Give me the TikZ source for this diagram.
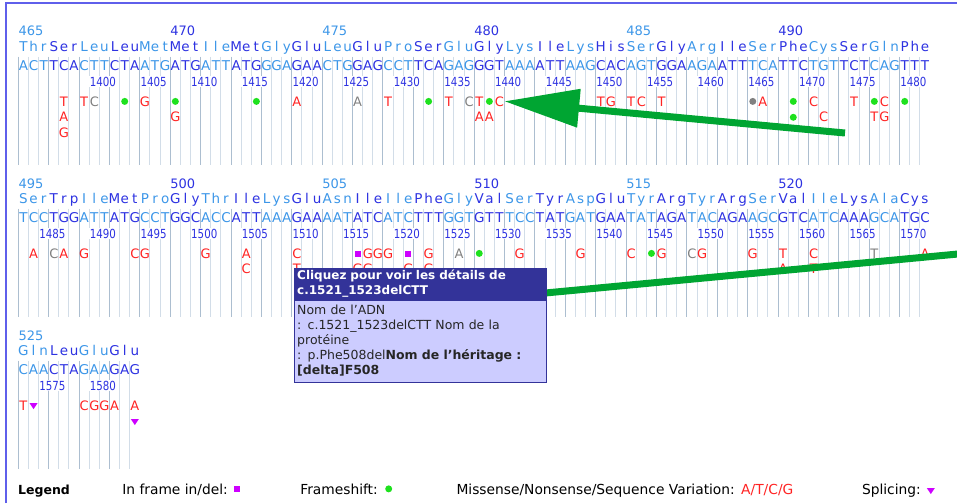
\documentclass[tikz,border=0pt]{standalone}
\usepackage{fontspec}
\setmainfont{DejaVu Sans}
\usetikzlibrary{arrows.meta, positioning, shapes.geometric}

\definecolor{seqlight}{RGB}{60,150,232}
\definecolor{seqdark}{RGB}{45,50,225}
\colorlet{seq0}{seqlight}
\colorlet{seq1}{seqdark}
\definecolor{gridlight}{RGB}{210,221,232}
\definecolor{griddark}{RGB}{172,190,208}
\definecolor{framecol}{RGB}{95,95,235}
\definecolor{mutred}{RGB}{255,35,35}
\definecolor{mutgray}{RGB}{128,128,128}
\definecolor{fsgreen}{RGB}{30,225,30}
\definecolor{ifdpurple}{RGB}{205,0,255}
\definecolor{arrowgreen}{RGB}{0,165,50}
\definecolor{tipnavy}{RGB}{51,51,153}
\definecolor{tipbody}{RGB}{204,204,255}

\tikzstyle{letter} = [inner sep=0pt, anchor=base, font=\fontsize{13.5}{15}\selectfont]
\tikzstyle{codonnum} = [inner sep=0pt, anchor=base west, font=\fontsize{13}{15}\selectfont]
\tikzstyle{ntnum} = [inner sep=0.5pt, anchor=base west, fill=white, text=seqdark, font=\fontsize{12.5}{14}\selectfont]
\tikzstyle{mut} = [inner sep=0pt, anchor=base, text=mutred, font=\fontsize{13}{15}\selectfont]
\tikzstyle{mutg} = [mut, text=mutgray]
\tikzstyle{fs} = [circle, fill=fsgreen, inner sep=0pt, minimum size=7pt, yshift=4.6pt]
\tikzstyle{fsg} = [fs, fill=mutgray]
\tikzstyle{ifd} = [rectangle, fill=ifdpurple, inner sep=0pt, minimum size=6pt, yshift=4.3pt]
\tikzstyle{splice} = [isosceles triangle, shape border rotate=-90, isosceles triangle stretches, fill=ifdpurple, inner sep=0pt, minimum width=8pt, minimum height=6pt, yshift=4.7pt]
\tikzstyle{grid0} = [griddark, line width=1pt]
\tikzstyle{grid1} = [gridlight, line width=1pt]
\tikzstyle{grid2} = [gridlight, line width=1pt]
\tikzstyle{bigarrow} = [arrowgreen, line width=7pt, -{Triangle[length=75pt, width=37pt]}]
\tikzstyle{bigline} = [arrowgreen, line width=7pt]
\tikzstyle{tiphead} = [rectangle, anchor=north west, fill=tipnavy, draw=tipnavy, text=white, text width=246pt, inner xsep=3pt, inner ysep=2pt, minimum height=31pt, align=left, font=\bfseries\fontsize{12}{15}\selectfont]
\tikzstyle{tipbox} = [rectangle, fill=tipbody, draw=tipnavy, text=black!85, text width=246pt, inner xsep=3pt, inner ysep=3pt, minimum height=82pt, align=left, font=\fontsize{12.5}{15}\selectfont]
\tikzstyle{legendtext} = [inner sep=0pt, font=\fontsize{13.8}{15}\selectfont]

% one codon: three letters, one per column
\def\putthree#1#2#3\relax#4#5#6#7{%
  \node[letter, text=#6] (#7-1) at (#4,#5) {#1};
  \node[letter, text=#6] (#7-2) at ({#4+10.13},#5) {#2};
  \node[letter, text=#6] (#7-3) at ({#4+20.26},#5) {#3};}

\newcommand{\seqrow}[3]{%
  \foreach \acid/\cod [count=\kk from 0] in {#3} {
    \pgfmathtruncatemacro{\cpar}{mod(\kk,2)}
    \pgfmathsetmacro{\xk}{23.4+30.39*\kk}
    \pgfmathsetmacro{\ya}{51.7+#2}
    \pgfmathsetmacro{\yn}{70.7+#2}
    \expandafter\putthree\acid\relax{\xk}{\ya}{seq\cpar}{aa#1-\kk}
    \expandafter\putthree\cod\relax{\xk}{\yn}{seq\cpar}{nt#1-\kk}
  }}

\newcommand{\gridrow}[2]{%
  \foreach \col in {1,...,#1} {
    \pgfmathtruncatemacro{\g}{mod(\col-1,3)}
    \draw[grid\g] ({18.3+10.13*(\col-1)},{56.7+#2}) -- ++(0,108);
  }}

\newcommand{\mutrow}[3]{%
  \foreach \col/\lin/\sty/\txt in {#3} {
    \node[\sty] (m#1-\col-\lin) at ({23.4+10.13*\col},{106+15.9*(\lin-1)+#2}) {\txt};
  }}

\begin{document}
\begin{tikzpicture}[x=1pt, y=-1pt]
\useasboundingbox (0,0) rectangle (957,503);

% frame
\draw[framecol, line width=2pt] (6,503) -- (6,3) -- (957,3);

% column lines
\gridrow{90}{0}
\gridrow{90}{152}
\gridrow{12}{304}

% codon numbers
\foreach \num [count=\m from 0] in {465,470,...,490} {
  \pgfmathtruncatemacro{\cpar}{mod(\m,2)}
  \node[codonnum, text=seq\cpar] (cn\num) at ({18.3+151.95*\m},36) {\num};
}
\foreach \num [count=\m from 0] in {495,500,...,520} {
  \pgfmathtruncatemacro{\cpar}{mod(\m,2)}
  \node[codonnum, text=seq\cpar] (cn\num) at ({18.3+151.95*\m},188) {\num};
}
\node[codonnum, text=seq0] (cn525) at (18.3,340) {525};

% amino acids and bases
\seqrow{1}{0}{Thr/ACT,Ser/TCA,Leu/CTT,Leu/CTA,Met/ATG,Met/ATG,Ile/ATT,Met/ATG,Gly/GGA,Glu/GAA,
  Leu/CTG,Glu/GAG,Pro/CCT,Ser/TCA,Glu/GAG,Gly/GGT,Lys/AAA,Ile/ATT,Lys/AAG,His/CAC,
  Ser/AGT,Gly/GGA,Arg/AGA,Ile/ATT,Ser/TCA,Phe/TTC,Cys/TGT,Ser/TCT,Gln/CAG,Phe/TTT}
\seqrow{2}{152}{Ser/TCC,Trp/TGG,Ile/ATT,Met/ATG,Pro/CCT,Gly/GGC,Thr/ACC,Ile/ATT,Lys/AAA,Glu/GAA,
  Asn/AAT,Ile/ATC,Ile/ATC,Phe/TTT,Gly/GGT,Val/GTT,Ser/TCC,Tyr/TAT,Asp/GAT,Glu/GAA,
  Tyr/TAT,Arg/AGA,Tyr/TAC,Arg/AGA,Ser/AGC,Val/GTC,Ile/ATC,Lys/AAA,Ala/GCA,Cys/TGC}
\seqrow{3}{304}{Gln/CAA,Leu/CTA,Glu/GAA,Glu/GAG}

% base numbers
\foreach \num [count=\m from 0] in {1400,1405,...,1480}
  \node[ntnum] (nn\num) at ({18.3+10.13*(7+5*\m)},86) {\scalebox{0.82}[1]{\num}};
\foreach \num [count=\m from 0] in {1485,1490,...,1570}
  \node[ntnum] (nn\num) at ({18.3+10.13*(2+5*\m)},238) {\scalebox{0.82}[1]{\num}};
\foreach \num [count=\m from 0] in {1575,1580}
  \node[ntnum] (nn\num) at ({18.3+10.13*(2+5*\m)},390) {\scalebox{0.82}[1]{\num}};

% mutations
\mutrow{1}{0}{4/1/mut/T,4/2/mut/A,4/3/mut/G,6/1/mut/T,7/1/mutg/C,10/1/fs/{},12/1/mut/G,15/1/fs/{},15/2/mut/G,
  23/1/fs/{},27/1/mut/A,33/1/mutg/A,36/1/mut/T,40/1/fs/{},42/1/mut/T,44/1/mutg/C,45/1/mut/T,45/2/mut/A,
  46/1/fs/{},46/2/mut/A,47/1/mut/C,57/1/mut/T,58/1/mut/G,60/1/mut/T,61/1/mut/C,63/1/mut/T,72/1/fsg/{},
  73/1/mut/A,76/1/fs/{},76/2/fs/{},78/1/mut/C,79/2/mut/C,82/1/mut/T,84/1/fs/{},84/2/mut/T,85/1/mut/C,
  85/2/mut/G,87/1/fs/{}}
\mutrow{2}{152}{1/1/mut/A,3/1/mutg/C,4/1/mut/A,6/1/mut/G,11/1/mut/C,12/1/mut/G,18/1/mut/G,22/1/mut/A,
  22/2/mut/C,27/1/mut/C,27/2/mut/T,33/1/ifd/{},33/2/mut/G,34/1/mut/G,34/2/mut/G,35/1/mut/G,36/1/mut/G,
  38/1/ifd/{},38/2/mut/G,40/1/mut/G,40/2/mut/G,43/1/mutg/A,45/1/fs/{},49/1/mut/G,55/1/mut/G,60/1/mut/C,
  62/1/fs/{},63/1/mut/G,66/1/mutg/C,67/1/mut/G,72/1/mut/G,75/1/mut/T,75/2/mut/A,78/1/mut/C,78/2/mut/T,
  84/1/mutg/T,89/1/mut/A}
\mutrow{3}{304}{0/1/mut/T,1/1/splice/{},6/1/mut/C,7/1/mut/G,8/1/mut/G,9/1/mut/A,11/1/mut/A,11/2/splice/{}}

% green pointers
\coordinate (tailA) at (845,133);
\draw[bigarrow] (tailA) -- (m1-47-1.east);
\coordinate (tailB) at (958,254);
\coordinate (endB) at (540,293.5);
\draw[bigline] (tailB) -- (endB);

% tooltip
\node (tiphead) [tiphead] at (294,268) {Cliquez pour voir les détails de\\c.1521\_1523delCTT};
\node (tipbox) [tipbox, below=0pt of tiphead] {Nom de l’ADN\\: c.1521\_1523delCTT Nom de la\\protéine\\: p.Phe508del\textbf{Nom de l’héritage :}\\\textbf{[delta]F508}};

% legend
\node (legendtitle) [legendtext, anchor=base west, font=\bfseries\fontsize{12.5}{15}\selectfont] at (18,494) {Legend};
\node (ifdlabel) [legendtext, anchor=base east] at (228,494) {In frame in/del:};
\node (ifdkey) [ifd, yshift=-4.3pt, right=6pt of ifdlabel] {};
\node (fslabel) [legendtext, anchor=base east] at (378,494) {Frameshift:};
\node (fskey) [fs, yshift=-4.6pt, right=7pt of fslabel] {};
\node (mislabel) [legendtext, anchor=base east] at (735,494) {Missense/Nonsense/Sequence Variation:};
\node (miskey) [legendtext, text=mutred, anchor=base west] at (741,494) {A/T/C/G};
\node (splabel) [legendtext, anchor=base east] at (921,494) {Splicing:};
\node (spkey) [splice, yshift=-4.7pt, right=7pt of splabel] {};

\end{tikzpicture}
\end{document}
